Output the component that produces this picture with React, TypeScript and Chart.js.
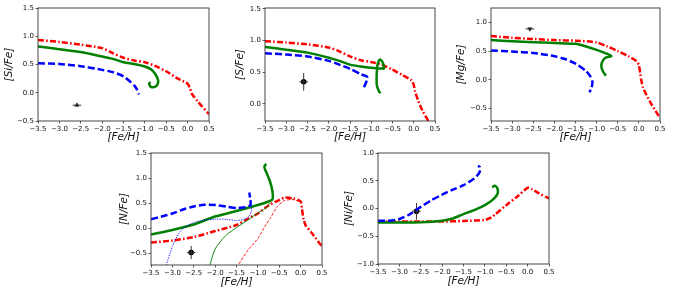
import React, { useEffect, useRef } from 'react';
import { Chart, registerables } from 'chart.js';
Chart.register(...registerables);

type P = [number, number];

// ---- tick labels ----
const xTicks = [-3.5, -3.0, -2.5, -2.0, -1.5, -1.0, -0.5, 0.0, 0.5];
const siYTicks = [-0.5, 0.0, 0.5, 1.0, 1.5];
const sYTicks = [0.0, 0.5, 1.0, 1.5];
const mgYTicks = [-0.5, 0.0, 0.5, 1.0];
const nYTicks = [-0.5, 0.0, 0.5, 1.0, 1.5];
const niYTicks = [-1.0, -0.5, 0.0, 0.5, 1.0];

// ---- [Si/Fe] ----
const siRed: P[] = [[-3.5, 0.935], [-3.0, 0.9], [-2.5, 0.85], [-2.0, 0.79], [-1.75, 0.7], [-1.5, 0.62], [-1.25, 0.57], [-1.0, 0.54], [-0.75, 0.47], [-0.5, 0.38], [-0.25, 0.26], [0.0, 0.16], [0.05, 0.09], [0.1, -0.02], [0.25, -0.165], [0.5, -0.38]];
const siGreen: P[] = [[-3.5, 0.82], [-3.0, 0.77], [-2.5, 0.72], [-2.0, 0.64], [-1.75, 0.6], [-1.5, 0.54], [-1.25, 0.51], [-1.0, 0.465], [-0.85, 0.41], [-0.74, 0.31], [-0.69, 0.22], [-0.71, 0.14], [-0.77, 0.105], [-0.85, 0.1], [-0.9, 0.16], [-0.87, 0.19]];
const siBlue: P[] = [[-3.5, 0.52], [-3.0, 0.51], [-2.5, 0.47], [-2.0, 0.405], [-1.75, 0.365], [-1.5, 0.29], [-1.35, 0.2], [-1.25, 0.13], [-1.18, 0.05], [-1.14, -0.03]];
const siObs: P = [-2.59, -0.22];
const siErr: P = [0.1, 0.03];

// ---- [S/Fe] ----
const sRed: P[] = [[-3.5, 0.99], [-3.0, 0.97], [-2.5, 0.94], [-2.0, 0.89], [-1.75, 0.83], [-1.5, 0.75], [-1.25, 0.69], [-1.0, 0.66], [-0.75, 0.62], [-0.5, 0.54], [-0.25, 0.45], [-0.05, 0.37], [0.0, 0.3], [0.03, 0.2], [0.1, 0.06], [0.2, -0.1], [0.37, -0.3]];
const sGreen: P[] = [[-3.5, 0.9], [-3.0, 0.855], [-2.5, 0.81], [-2.0, 0.73], [-1.75, 0.68], [-1.5, 0.62], [-1.25, 0.59], [-1.0, 0.57], [-0.75, 0.56], [-0.7, 0.56], [-0.74, 0.67], [-0.8, 0.7], [-0.85, 0.63], [-0.87, 0.5], [-0.87, 0.3], [-0.82, 0.2], [-0.78, 0.17]];
const sBlue: P[] = [[-3.5, 0.8], [-3.0, 0.78], [-2.5, 0.75], [-2.0, 0.68], [-1.75, 0.62], [-1.5, 0.555], [-1.25, 0.47], [-1.1, 0.43], [-1.1, 0.38], [-1.14, 0.31], [-1.18, 0.25]];
const sObs: P = [-2.59, 0.35];
const sErr: P = [0.1, 0.14];

// ---- [Mg/Fe] ----
const mgRed: P[] = [[-3.5, 0.76], [-3.0, 0.73], [-2.5, 0.71], [-2.0, 0.69], [-1.5, 0.68], [-1.0, 0.65], [-0.75, 0.58], [-0.5, 0.5], [-0.25, 0.41], [-0.05, 0.32], [0.0, 0.25], [0.03, 0.12], [0.06, -0.02], [0.1, -0.14], [0.26, -0.38], [0.5, -0.67]];
const mgGreen: P[] = [[-3.5, 0.69], [-3.0, 0.67], [-2.5, 0.655], [-2.0, 0.64], [-1.5, 0.625], [-1.25, 0.58], [-1.0, 0.52], [-0.75, 0.45], [-0.65, 0.41], [-0.8, 0.38], [-0.88, 0.29], [-0.88, 0.2], [-0.83, 0.12], [-0.78, 0.07]];
const mgBlue: P[] = [[-3.5, 0.51], [-3.0, 0.49], [-2.5, 0.465], [-2.0, 0.41], [-1.75, 0.36], [-1.5, 0.28], [-1.25, 0.15], [-1.15, 0.06], [-1.1, -0.04], [-1.12, -0.14], [-1.17, -0.22]];
const mgObs: P = [-2.58, 0.885];
const mgErr: P = [0.1, 0.02];

// ---- [N/Fe] ----
const nBlue: P[] = [[-3.5, 0.185], [-3.25, 0.24], [-3.0, 0.3], [-2.75, 0.38], [-2.5, 0.44], [-2.25, 0.475], [-2.0, 0.47], [-1.75, 0.44], [-1.5, 0.41], [-1.35, 0.42], [-1.22, 0.44], [-1.17, 0.48], [-1.18, 0.6], [-1.2, 0.72]];
const nBlueThin: P[] = [[-3.16, -0.78], [-3.0, -0.36], [-2.85, -0.1], [-2.7, 0.03], [-2.5, 0.12], [-2.25, 0.17], [-2.0, 0.185], [-1.75, 0.185], [-1.5, 0.16], [-1.3, 0.19], [-1.2, 0.25], [-1.15, 0.35], [-1.15, 0.47]];
const nGreen: P[] = [[-3.5, -0.12], [-3.0, -0.03], [-2.5, 0.08], [-2.0, 0.24], [-1.5, 0.35], [-1.0, 0.47], [-0.75, 0.54], [-0.66, 0.58], [-0.66, 0.75], [-0.72, 0.95], [-0.8, 1.12], [-0.84, 1.2], [-0.84, 1.26], [-0.8, 1.29]];
const nGreenThin: P[] = [[-2.14, -0.78], [-2.0, -0.41], [-1.75, -0.14], [-1.5, 0.02], [-1.25, 0.16], [-1.0, 0.31], [-0.83, 0.4], [-0.7, 0.52]];
const nRed: P[] = [[-3.5, -0.28], [-3.0, -0.24], [-2.5, -0.17], [-2.0, -0.05], [-1.5, 0.07], [-1.22, 0.2], [-1.0, 0.3], [-0.75, 0.46], [-0.5, 0.57], [-0.36, 0.62], [-0.17, 0.6], [0.0, 0.54], [0.03, 0.4], [0.07, 0.18], [0.12, 0.06], [0.27, -0.1], [0.5, -0.36]];
const nRedThin: P[] = [[-1.5, -0.78], [-1.22, -0.42], [-1.0, -0.2], [-0.83, 0.05], [-0.7, 0.22], [-0.56, 0.42], [-0.4, 0.55], [-0.2, 0.58], [0.0, 0.53]];
const nObs: P = [-2.56, -0.48];
const nErr: P = [0.1, 0.13];

// ---- [Ni/Fe] ----
const niBlue: P[] = [[-3.5, -0.22], [-3.25, -0.22], [-3.0, -0.19], [-2.75, -0.1], [-2.5, 0.03], [-2.25, 0.15], [-2.0, 0.25], [-1.75, 0.34], [-1.5, 0.42], [-1.25, 0.54], [-1.15, 0.62], [-1.11, 0.69], [-1.12, 0.75], [-1.16, 0.77]];
const niGreen: P[] = [[-3.5, -0.25], [-3.0, -0.25], [-2.5, -0.25], [-2.0, -0.22], [-1.75, -0.18], [-1.5, -0.1], [-1.25, -0.03], [-1.0, 0.06], [-0.8, 0.17], [-0.7, 0.27], [-0.71, 0.37], [-0.77, 0.41], [-0.83, 0.38]];
const niRed: P[] = [[-3.5, -0.235], [-3.0, -0.235], [-2.5, -0.235], [-2.0, -0.235], [-1.5, -0.225], [-1.0, -0.205], [-0.85, -0.16], [-0.75, -0.1], [-0.5, 0.06], [-0.25, 0.21], [0.0, 0.37], [0.1, 0.35], [0.25, 0.28], [0.5, 0.18]];
const niObs: P = [-2.6, -0.05];
const niErr: P = [0.1, 0.15];

const RED = '#ff0000';
const GREEN = '#008000';
const BLUE = '#0000ff';

const fmt = (v: number) => Number(v).toFixed(1).replace('-', '\u2212');

const framePlugin = {
  id: 'frame',
  afterDatasetsDraw(chart: any) {
    const { ctx, chartArea } = chart;
    const { left, top, right, bottom } = chartArea;
    ctx.save();
    ctx.strokeStyle = '#333';
    ctx.lineWidth = 0.9;
    ctx.strokeRect(left, top, right - left, bottom - top);
    ctx.restore();
  },
};

type LineSpec = { data: P[]; color: string; width: number; dash: number[] };
type Panel = {
  L: number; T: number; W: number; H: number;
  yMin: number; yMax: number; yTicks: number[]; yLabel: string; yPad: number; xPad: number;
  lines: LineSpec[]; obs: P; err: P; marker: string; rot: number;
};

const DASH = [7, 3];
const DASHDOT = [6, 2.2, 1.6, 2.2];
const DOT = [1.2, 1.2];
const THIN_DASH = [3, 1.5];

const panels: Panel[] = [
  {
    L: 38, T: 8, W: 171, H: 113, yMin: -0.5, yMax: 1.5, yTicks: siYTicks, yLabel: '[Si/Fe]', yPad: 2.5, xPad: 1.5,
    lines: [
      { data: siBlue, color: BLUE, width: 2.5, dash: DASH },
      { data: siGreen, color: GREEN, width: 2.5, dash: [] },
      { data: siRed, color: RED, width: 2.5, dash: DASHDOT },
    ],
    obs: siObs, err: siErr, marker: 'triangle', rot: 0,
  },
  {
    L: 265, T: 8, W: 170, H: 113, yMin: -0.27, yMax: 1.515, yTicks: sYTicks, yLabel: '[S/Fe]', yPad: 6.5, xPad: 1.5,
    lines: [
      { data: sBlue, color: BLUE, width: 2.5, dash: DASH },
      { data: sGreen, color: GREEN, width: 2.5, dash: [] },
      { data: sRed, color: RED, width: 2.5, dash: DASHDOT },
    ],
    obs: sObs, err: sErr, marker: 'circle', rot: 0,
  },
  {
    L: 491, T: 8, W: 169, H: 113, yMin: -0.72, yMax: 1.25, yTicks: mgYTicks, yLabel: '[Mg/Fe]', yPad: 1.5, xPad: 1.5,
    lines: [
      { data: mgBlue, color: BLUE, width: 2.5, dash: DASH },
      { data: mgGreen, color: GREEN, width: 2.5, dash: [] },
      { data: mgRed, color: RED, width: 2.5, dash: DASHDOT },
    ],
    obs: mgObs, err: mgErr, marker: 'triangle', rot: 180,
  },
  {
    L: 151, T: 153, W: 171, H: 112, yMin: -0.73, yMax: 1.51, yTicks: nYTicks, yLabel: '[N/Fe]', yPad: 4.5, xPad: 0.5,
    lines: [
      { data: nBlueThin, color: BLUE, width: 0.9, dash: DOT },
      { data: nGreenThin, color: GREEN, width: 0.9, dash: [] },
      { data: nRedThin, color: RED, width: 0.9, dash: THIN_DASH },
      { data: nBlue, color: BLUE, width: 2.5, dash: DASH },
      { data: nGreen, color: GREEN, width: 2.5, dash: [] },
      { data: nRed, color: RED, width: 2.5, dash: DASHDOT },
    ],
    obs: nObs, err: nErr, marker: 'circle', rot: 0,
  },
  {
    L: 378, T: 153, W: 171, H: 111, yMin: -1.0, yMax: 1.0, yTicks: niYTicks, yLabel: '[Ni/Fe]', yPad: 3, xPad: 0.5,
    lines: [
      { data: niBlue, color: BLUE, width: 2.5, dash: DASH },
      { data: niGreen, color: GREEN, width: 2.5, dash: [] },
      { data: niRed, color: RED, width: 2.5, dash: DASHDOT },
    ],
    obs: niObs, err: niErr, marker: 'circle', rot: 0,
  },
];

const Y_AXIS_W = 38;
const X_AXIS_H = 24;
const TOP_PAD = 8;
const RIGHT_PAD = 14;
const TICK_FONT = { family: 'DejaVu Sans', size: 7 };
const TITLE_FONT = { family: 'DejaVu Sans', size: 10.5, style: 'italic' as const };

function PanelChart({ p }: { p: Panel }) {
  const ref = useRef<HTMLCanvasElement>(null);
  const cw = Y_AXIS_W + p.W + RIGHT_PAD;
  const ch = TOP_PAD + p.H + X_AXIS_H;
  useEffect(() => {
    if (!ref.current) return;
    const datasets: any[] = p.lines.map((l) => ({
      type: 'scatter',
      data: l.data.map(([x, y]) => ({ x, y })),
      showLine: true,
      borderColor: l.color,
      backgroundColor: l.color,
      borderWidth: l.width,
      borderDash: l.dash,
      borderCapStyle: 'butt',
      pointRadius: 0,
      tension: 0.25,
      clip: 0,
    }));
    const [ox, oy] = p.obs;
    const [ex, ey] = p.err;
    datasets.push({
      type: 'scatter',
      data: [{ x: ox - ex, y: oy }, { x: ox + ex, y: oy }],
      showLine: true, borderColor: '#333', borderWidth: 1, pointRadius: 0, tension: 0,
    });
    datasets.push({
      type: 'scatter',
      data: [{ x: ox, y: oy - ey }, { x: ox, y: oy + ey }],
      showLine: true, borderColor: '#333', borderWidth: 1, pointRadius: 0, tension: 0,
    });
    datasets.push({
      type: 'scatter',
      data: [{ x: ox, y: oy }],
      pointStyle: p.marker,
      pointRotation: p.rot,
      pointRadius: 2.8,
      backgroundColor: '#000',
      borderColor: '#000',
      borderWidth: 0,
    });
    const chart = new Chart(ref.current, {
      type: 'scatter',
      data: { datasets },
      plugins: [framePlugin],
      options: {
        animation: false,
        responsive: false,
        maintainAspectRatio: false,
        devicePixelRatio: 1,
        layout: { padding: { left: 0, top: TOP_PAD, right: RIGHT_PAD, bottom: 0 } },
        plugins: { legend: { display: false }, tooltip: { enabled: false } },
        scales: {
          x: {
            type: 'linear',
            min: -3.5,
            max: 0.5,
            afterBuildTicks: (s: any) => { s.ticks = xTicks.map((v) => ({ value: v })); },
            afterFit: (s: any) => { s.height = X_AXIS_H; },
            ticks: { font: TICK_FONT, color: '#111', padding: 1, autoSkip: false, maxRotation: 0, callback: (v: any) => fmt(v) },
            grid: { drawOnChartArea: false, drawTicks: true, tickLength: 2.5, tickColor: '#333', tickWidth: 0.8 },
            border: { display: false },
            title: { display: true, text: '[Fe/H]', font: TITLE_FONT, color: '#111', padding: { top: 0, bottom: p.xPad } },
          },
          y: {
            type: 'linear',
            min: p.yMin,
            max: p.yMax,
            afterBuildTicks: (s: any) => { s.ticks = p.yTicks.map((v) => ({ value: v })); },
            afterFit: (s: any) => { s.width = Y_AXIS_W; },
            ticks: { font: TICK_FONT, color: '#111', padding: 1.5, autoSkip: false, callback: (v: any) => fmt(v) },
            grid: { drawOnChartArea: false, drawTicks: true, tickLength: 2.5, tickColor: '#333', tickWidth: 0.8 },
            border: { display: false },
            title: { display: true, text: p.yLabel, font: TITLE_FONT, color: '#111', padding: { top: p.yPad, bottom: 0 } },
          },
        },
      } as any,
    });
    return () => chart.destroy();
  }, []);
  return (
    <canvas
      ref={ref}
      width={cw}
      height={ch}
      style={{ position: 'absolute', left: p.L - Y_AXIS_W, top: p.T - TOP_PAD, width: cw, height: ch }}
    />
  );
}

export default function App() {
  return (
    <div style={{ position: 'absolute', left: 0, top: 0, width: 673, height: 294, overflow: 'hidden', background: '#fff' }}>
      {panels.map((p, i) => <PanelChart key={i} p={p} />)}
    </div>
  );
}
